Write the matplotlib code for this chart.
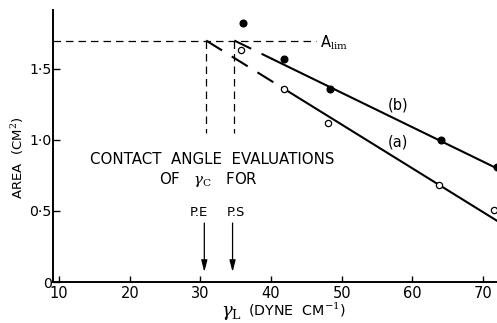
import matplotlib
matplotlib.use("Agg")
import matplotlib.pyplot as plt
import numpy as np

plt.rcParams['font.family'] = ['DejaVu Sans']
plt.rcParams['mathtext.fontset'] = 'dejavuserif'

# Surface tension of wetting liquids (dyne/cm) and film area (cm^2)
gamma_b = [36.0, 41.8, 48.3, 64.0, 72.0]
area_b = [1.82, 1.57, 1.36, 1.00, 0.81]
gamma_a = [35.8, 41.9, 48.0, 63.8, 71.6]
area_a = [1.63, 1.36, 1.12, 0.68, 0.51]

# Limiting area and critical surface tensions from contact angles
a_lim = 1.70
gamma_c = {"P.E": 30.8, "P.S": 34.8}

# Straight-line fits (slopes in cm^2 per dyne/cm), pinned at A_lim
slope_a = -0.0308
slope_b = -0.0242

x_ticks = [10, 20, 30, 40, 50, 60, 70]
y_ticks = [0, 0.5, 1.0, 1.5]
y_tick_labels = ["0", "0·5", "1·0", "1·5"]

fig = plt.figure(figsize=(4.97, 3.23), dpi=100)
ax = fig.add_axes([53 / 497, 1 - 282 / 323, 444 / 497, 272 / 323])
ax.set_xlim(9.12, 72.0)
ax.set_ylim(0, 1.915)

for s in ("top", "right"):
    ax.spines[s].set_visible(False)
for s in ("left", "bottom"):
    ax.spines[s].set_linewidth(1.4)

ax.set_xticks(x_ticks)
ax.set_yticks(y_ticks)
ax.set_yticklabels(y_tick_labels)
ax.tick_params(axis="x", direction="in", length=4, width=1, pad=3, labelsize=10.5)
ax.tick_params(axis="y", direction="in", length=5, width=1, pad=1, labelsize=10.2)

# Fitted lines: dashed extrapolation to A_lim, solid over the data
def fit_line(gc, slope, x0, x1):
    x = np.array([x0, x1])
    return x, a_lim + slope * (x - gc)

gc_a = gamma_c["P.E"]
gc_b = gamma_c["P.S"]
split_a, split_b = 41.6, 40.2
x, y = fit_line(gc_a, slope_a, gc_a, split_a)
ax.plot(x, y, color="black", lw=1.5, dashes=(9, 5.5))
x, y = fit_line(gc_a, slope_a, split_a, 72.0)
ax.plot(x, y, color="black", lw=1.5)
x, y = fit_line(gc_b, slope_b, gc_b, split_b)
ax.plot(x, y, color="black", lw=1.5, dashes=(9, 5.5))
x, y = fit_line(gc_b, slope_b, split_b, 72.0)
ax.plot(x, y, color="black", lw=1.5)

# Data points
ax.plot(gamma_b, area_b, "o", color="black", ms=4.8)
ax.plot(gamma_a, area_a, "o", mfc="white", mec="black", mew=0.9, ms=4.5)

# A_lim guide and critical tension verticals
ax.plot([9.12, 46.3], [a_lim, a_lim], color="black", lw=0.9, dashes=(6, 4))
for gc in gamma_c.values():
    ax.plot([gc, gc], [a_lim, 1.05], color="black", lw=0.9, dashes=(6, 4))
ax.text(46.9, 1.685, r"A$_{\rm lim}$", fontsize=10.5, ha="left", va="center")

# Annotations
ax.text(31.7, 0.862, "CONTACT  ANGLE  EVALUATIONS", fontsize=10.8,
        ha="center", va="center")
ax.text(31.2, 0.72, r"OF   $\gamma_{\rm C}$   FOR", fontsize=10.8,
        ha="center", va="center")
label_x = {"P.E": 29.8, "P.S": 35.0}
for name, gc in gamma_c.items():
    ax.text(label_x[name], 0.489, name, fontsize=9.5, ha="center", va="center")
    ax.annotate("", xy=(gc - 0.25, 0.07), xytext=(gc - 0.25, 0.415),
                arrowprops=dict(arrowstyle="-|>,head_length=0.7,head_width=0.18",
                                color="black", lw=0.9, shrinkA=0, shrinkB=0))

ax.text(58.0, 1.246, "(b)", fontsize=10.5, ha="center", va="center")
ax.text(58.0, 0.988, "(a)", fontsize=10.5, ha="center", va="center")

# Axis titles
fig.text(18 / 497, 1 - 158 / 323, r"AREA  (CM$^{2}$)", rotation=90,
         fontsize=9.5, ha="center", va="center")
fig.text(231 / 497, 1 - 313 / 323, r"$\gamma_{\rm L}$", fontsize=13,
         ha="center", va="center")
fig.text(297 / 497, 1 - 310 / 323, r"(DYNE  CM$^{-1}$)", fontsize=10.3,
         ha="center", va="center")

fig.savefig("out.png", dpi=100)
